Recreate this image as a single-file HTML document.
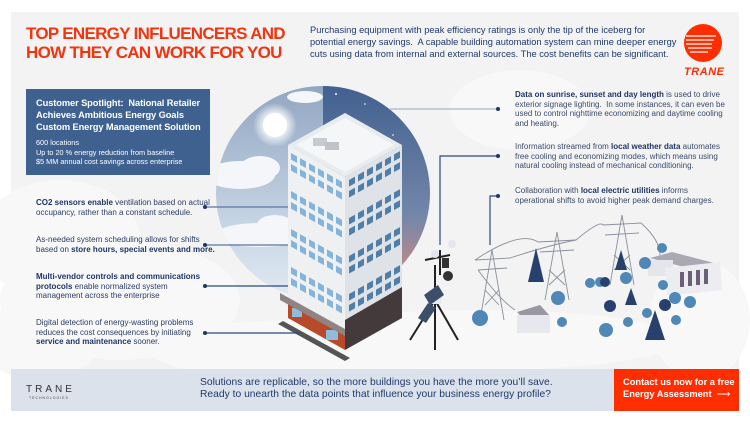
<!DOCTYPE html>
<html><head><meta charset="utf-8">
<style>
*{margin:0;padding:0;box-sizing:border-box}
body{width:750px;height:422px;background:#fff;position:relative;overflow:hidden;font-family:"Liberation Sans",sans-serif}
.abs{position:absolute}
.t{color:#2b3d63;font-size:8px;line-height:9.5px}
.t b{color:#1f3566}
.r{color:#3a4a6b;font-size:8px;line-height:9.5px}
.r b{color:#1f3566}
</style></head><body>
<div class="abs" style="left:11px;top:12px;width:728px;height:399px;background:#f3f3f4"></div>
<svg class="abs" style="left:0;top:0" width="750" height="422" viewBox="0 0 750 422">
<defs>
<linearGradient id="sky" x1="0" y1="0" x2="0" y2="1">
<stop offset="0" stop-color="#8fa4c0"/><stop offset="0.6" stop-color="#c4d3e3"/><stop offset="1" stop-color="#e4edf5"/></linearGradient>
<linearGradient id="night" x1="0" y1="0" x2="0" y2="1">
<stop offset="0" stop-color="#3f5f8f"/><stop offset="0.6" stop-color="#7487a9"/><stop offset="0.85" stop-color="#c88a86"/><stop offset="1" stop-color="#ef5a3e"/></linearGradient>
<clipPath id="cc"><circle cx="323" cy="193" r="107"/></clipPath>
<radialGradient id="sun"><stop offset="0.4" stop-color="#fff"/><stop offset="1" stop-color="#fff" stop-opacity="0"/></radialGradient>
</defs>
<g fill="#f8f8f9">
<ellipse cx="60" cy="240" rx="80" ry="60"/><ellipse cx="120" cy="300" rx="120" ry="60"/>
<ellipse cx="40" cy="340" rx="60" ry="40"/><ellipse cx="300" cy="350" rx="150" ry="30"/>
<ellipse cx="700" cy="320" rx="50" ry="60"/>
<ellipse cx="520" cy="110" rx="70" ry="40"/><ellipse cx="480" cy="340" rx="200" ry="30"/>
</g>
<g clip-path="url(#cc)">
<rect x="210" y="80" width="113" height="230" fill="url(#sky)"/>
<rect x="323" y="80" width="120" height="230" fill="url(#night)"/>
<circle cx="275" cy="125" r="22" fill="url(#sun)"/>
<circle cx="275" cy="125" r="12" fill="#fff"/>
<g fill="#f4f6f9"><ellipse cx="240" cy="175" rx="35" ry="14"/><ellipse cx="260" cy="168" rx="20" ry="12"/><ellipse cx="260" cy="235" rx="45" ry="12"/><ellipse cx="275" cy="225" rx="18" ry="10"/><ellipse cx="305" cy="97" rx="18" ry="6"/></g>
<g fill="#fff"><circle cx="336" cy="94" r="1"/><circle cx="365" cy="104" r="0.8"/><circle cx="393" cy="135" r="0.8"/></g>
</g>
<polygon points="288,145 345,177 345,347 288,315" fill="#eef0f2"/>
<polygon points="345,177 402,145 402,287 345,320" fill="#dfe3e8"/>
<polygon points="345,113 402,145 345,177 288,145" fill="#e9ecef"/>
<polygon points="345,118 394,145 345,172 296,145" fill="#f5f6f7"/>
<rect x="313" y="138" width="14" height="8" fill="#c7cbd0"/><rect x="325" y="142" width="14" height="8" fill="#c0c4ca"/>
<polygon points="345,320 402,287 402,318 345,350" fill="#443a3b"/>
<polygon points="288,302 345,334 345,350 288,318" fill="#b84a2a"/>
<rect x="292" y="308" width="10" height="9" fill="#8fbbdc"/><rect x="326" y="330" width="12" height="10" fill="#8fbbdc"/>
<polygon points="280,293 345,329 345,336 280,300" fill="#8f8482"/>
<polygon points="278,324 345,361 350,358 283,321" fill="#555"/>
</svg>
<svg class="abs" style="left:0;top:0" width="750" height="422" viewBox="0 0 750 422">
<g id="wins"></g>
<g stroke="#2a4a80" stroke-width="1.2" fill="none">
<line x1="205" y1="207" x2="288" y2="207" stroke="#5876a2"/>
<line x1="205" y1="245" x2="288" y2="245" stroke="#5876a2"/>
<line x1="205" y1="286" x2="288" y2="286"/>
<line x1="205" y1="333" x2="300" y2="333"/>
<line x1="390" y1="109" x2="498" y2="109" stroke="#a9b6ca"/>
<polyline points="498,156 440,156 440,245"/>
<polyline points="498,196 490,196 490,245"/>
</g>
<g fill="#1f3566"><circle cx="205" cy="207" r="2"/><circle cx="205" cy="245" r="2"/><circle cx="205" cy="286" r="2"/><circle cx="205" cy="333" r="2"/><circle cx="498" cy="109" r="2"/><circle cx="498" cy="156" r="2"/><circle cx="498" cy="196" r="2"/></g>
<g stroke="#222" stroke-width="2" fill="none">
<line x1="435" y1="265" x2="435" y2="350"/><line x1="435" y1="300" x2="410" y2="340"/><line x1="435" y1="300" x2="458" y2="340"/>
<line x1="425" y1="260" x2="450" y2="255"/><line x1="440" y1="250" x2="440" y2="275"/>
</g>
<circle cx="435" cy="254" r="4" fill="#e4e6ee"/><circle cx="452" cy="244" r="4" fill="#e4e6ee"/>
<rect x="442" y="258" width="7" height="10" fill="#333"/><circle cx="448" cy="276" r="5" fill="#333"/>
<rect x="428" y="290" width="14" height="14" fill="#e9ebf0"/>
<polygon points="424,295 438,285 444,295 430,305" fill="#3c4f6a"/>
<polygon points="418,318 428,303 436,308 426,323" fill="#3c4f6a"/>
<g stroke="#8a8f9a" stroke-width="0.9" fill="none">
<polyline points="480,320 492,250 504,320"/><line x1="475" y1="260" x2="510" y2="258"/><line x1="478" y1="270" x2="507" y2="268"/>
<line x1="485" y1="290" x2="499" y2="305"/><line x1="499" y1="290" x2="485" y2="305"/>
<polyline points="545,300 557,232 569,300"/><line x1="538" y1="242" x2="576" y2="240"/><line x1="540" y1="252" x2="574" y2="250"/>
<line x1="549" y1="270" x2="565" y2="285"/><line x1="565" y1="270" x2="549" y2="285"/>
<polyline points="610,285 622,215 634,285"/><line x1="603" y1="225" x2="641" y2="223"/><line x1="605" y1="235" x2="639" y2="233"/>
<line x1="614" y1="255" x2="630" y2="270"/><line x1="630" y1="255" x2="614" y2="270"/>
<path d="M475,260 Q520,230 538,242 M510,258 Q550,245 576,240 M576,240 Q600,220 603,225 M641,223 Q660,240 660,255 M478,270 Q500,300 515,310"/>
</g>
<polygon points="517,312 540,305 550,316 527,323" fill="#9a96a2"/>
<rect x="517" y="315" width="33" height="18" fill="#e7e8ed"/>
<polygon points="650,258 672,252 718,264 695,270" fill="#aaa8b2"/>
<rect x="648" y="260" width="25" height="16" fill="#e5e6eb"/>
<polygon points="665,268 720,262 722,290 667,296" fill="#ecedf1"/>
<g fill="#6b6176"><rect x="680" y="272" width="4" height="15"/><rect x="688" y="271" width="4" height="15"/><rect x="696" y="270" width="4" height="15"/><rect x="704" y="269" width="4" height="15"/></g>
<g fill="#4f87b6">
<circle cx="480" cy="318" r="8"/><circle cx="558" cy="298" r="7"/><circle cx="600" cy="282" r="5"/><circle cx="626" cy="278" r="6"/><circle cx="645" cy="263" r="6"/><circle cx="663" cy="285" r="5"/><circle cx="606" cy="330" r="7"/><circle cx="562" cy="322" r="5"/><circle cx="628" cy="322" r="5"/><circle cx="676" cy="320" r="5"/><circle cx="675" cy="298" r="6"/><circle cx="690" cy="302" r="6"/><circle cx="590" cy="283" r="5"/><circle cx="662" cy="248" r="5"/><circle cx="647" cy="313" r="5"/></g>
<g fill="#28406e"><polygon points="528,282 536,248 544,282"/><polygon points="615,270 621,250 627,270"/><polygon points="625,305 631,288 637,305"/><polygon points="645,340 655,310 665,340"/><circle cx="605" cy="282" r="5"/><circle cx="610" cy="306" r="6"/><circle cx="665" cy="305" r="6"/></g>
<circle cx="703" cy="43" r="19" fill="#ff2e00"/>
<g stroke="#fff" stroke-width="1.3"><line x1="686" y1="36" x2="716" y2="36"/><line x1="686" y1="40" x2="714" y2="40"/><line x1="686" y1="44" x2="712" y2="44"/><line x1="688" y1="48" x2="712" y2="48"/><line x1="690" y1="52" x2="708" y2="52"/></g>
<text x="684" y="75" font-family="Liberation Sans" font-weight="bold" font-style="italic" font-size="11" fill="#ff2e00" textLength="40">TRANE</text>
</svg>
<script>
(function(){var g=document.getElementById('wins'),s='';
for(var r=0;r<4;r++){for(var k=0;k<2;k++){var y0=153+r*38+k*11;
for(var c=0;c<6;c++){var x=291+c*9,y=y0+c*5.1;s+='<polygon points="'+x+','+y+' '+(x+6)+','+(y+3.4)+' '+(x+6)+','+(y+10)+' '+x+','+(y+6.6)+'" fill="#84b4dc"/>';}
for(var c=0;c<6;c++){var x=349+c*9,y=y0+27-c*5.1;s+='<polygon points="'+x+','+y+' '+(x+6)+','+(y-3.4)+' '+(x+6)+','+(y+3.2)+' '+x+','+(y+6.6)+'" fill="#4f7fa8"/>';}}}
g.innerHTML=s;})();
</script>
<div class="abs" style="left:26px;top:24px;color:#f2340f;font-weight:bold;font-size:17px;line-height:19px;letter-spacing:-0.7px;white-space:nowrap">TOP ENERGY INFLUENCERS AND<br>HOW THEY CAN WORK FOR YOU</div>
<div class="abs" style="left:310px;top:24px;color:#1f3a6b;font-size:9.3px;line-height:12px;white-space:nowrap">Purchasing equipment with peak efficiency ratings is only the tip of the iceberg for<br>potential energy savings.&nbsp; A capable building automation system can mine deeper energy<br>cuts using data from internal and external sources. The cost benefits can be significant.</div>
<div class="abs" style="left:26px;top:89px;width:184px;height:86px;background:#3f6190;color:#fff;padding:8px 0 0 10px;overflow:hidden">
<div style="font-weight:bold;font-size:9.3px;line-height:12px;white-space:nowrap;letter-spacing:-0.1px">Customer Spotlight:&nbsp; National Retailer<br>Achieves Ambitious Energy Goals<br>Custom Energy Management Solution</div>
<div style="font-size:7.3px;line-height:9.5px;margin-top:5px;white-space:nowrap">600 locations<br>Up to 20 % energy reduction from baseline<br>$5 MM annual cost savings across enterprise</div></div>
<div class="abs t" style="left:36px;top:198px;white-space:nowrap"><b>CO2 sensors enable</b> ventilation based on actual<br>occupancy, rather than a constant schedule.</div>
<div class="abs t" style="left:36px;top:235px;white-space:nowrap">As-needed system scheduling allows for shifts<br>based on <b>store hours, special events and more.</b></div>
<div class="abs t" style="left:36px;top:272px;white-space:nowrap"><b>Multi-vendor controls and communications<br>protocols</b> enable normalized system<br>management across the enterprise</div>
<div class="abs t" style="left:36px;top:318px;white-space:nowrap">Digital detection of energy-wasting problems<br>reduces the cost consequences by initiating<br><b>service and maintenance</b> sooner.</div>
<div class="abs r" style="left:515px;top:90px;white-space:nowrap"><b>Data on sunrise, sunset and day length</b> is used to drive<br>exterior signage lighting.&nbsp; In some instances, it can even be<br>used to control nighttime economizing and daytime cooling<br>and heating.</div>
<div class="abs r" style="left:515px;top:142px;white-space:nowrap">Information streamed from <b>local weather data</b> automates<br>free cooling and economizing modes, which means using<br>natural cooling instead of mechanical conditioning.</div>
<div class="abs r" style="left:515px;top:186px;white-space:nowrap">Collaboration with <b>local electric utilities</b> informs<br>operational shifts to avoid higher peak demand charges.</div>
<div class="abs" style="left:11px;top:369px;width:603px;height:42px;background:#dce2eb"></div>
<div class="abs" style="left:26px;top:385px;font-size:10px;letter-spacing:3px;color:#333;line-height:10px">TRANE</div>
<div class="abs" style="left:29px;top:396px;font-size:3.5px;letter-spacing:1px;color:#444">TECHNOLOGIES</div>
<div class="abs" style="left:200px;top:377px;color:#1f3a6b;font-size:10.3px;line-height:12px;white-space:nowrap">Solutions are replicable, so the more buildings you have the more you’ll save.<br>Ready to unearth the data points that influence your business energy profile?</div>
<div class="abs" style="left:614px;top:369px;width:125px;height:42px;background:#ff2e00;color:#fff;font-weight:bold;font-size:9.3px;line-height:12px;padding:7px 0 0 9px;white-space:nowrap">Contact us now for a free<br>Energy Assessment <span style="font-weight:normal">&nbsp;⟶</span></div>
</body></html>
